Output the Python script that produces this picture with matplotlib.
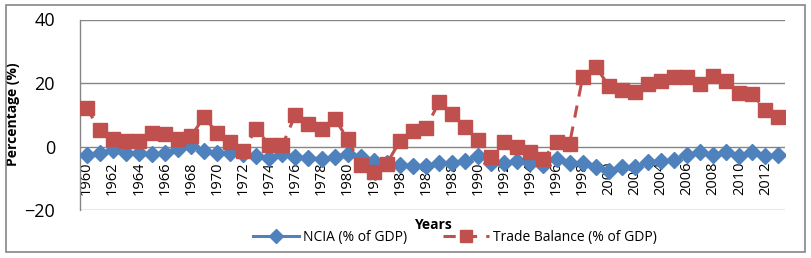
import matplotlib
matplotlib.use('Agg')
import matplotlib.pyplot as plt
from matplotlib.patches import Rectangle

plt.rcParams['font.family'] = ['Open Sans', 'DejaVu Sans']

# Data
years = list(range(1960, 2014))
ncia = [-2.8, -2.2, -1.2, -2.0, -2.2, -2.5, -2.2, -0.8, 0.1, -1.5,
        -2.2, -2.2, -2.5, -3.1, -3.6, -2.5, -3.4, -3.6, -3.9, -3.2,
        -2.5, -3.4, -4.6, -5.1, -5.7, -6.0, -6.0, -5.1, -5.1, -4.6,
        -3.0, -5.1, -5.1, -4.6, -5.1, -5.7, -4.0, -5.1, -5.1, -6.5,
        -7.6, -6.6, -6.5, -5.0, -4.7, -4.2, -2.8, -1.6, -2.8, -1.6,
        -3.0, -1.8, -3.0, -2.8]
trade = [12.2, 5.3, 2.4, 1.7, 1.7, 4.3, 4.0, 2.4, 3.2, 9.3,
         4.3, 1.4, -1.3, 5.6, 0.4, 0.4, 10.0, 7.2, 5.6, 8.8,
         2.4, -5.9, -8.1, -5.4, 1.7, 4.8, 5.9, 13.9, 10.3, 6.2,
         2.0, -3.2, 1.4, -0.1, -1.8, -3.9, 1.5, 0.9, 21.8, 25.1,
         19.2, 17.7, 17.2, 19.8, 20.5, 21.8, 21.8, 19.8, 22.1, 20.5,
         16.9, 16.4, 11.6, 9.3]
tick_labels = [str(y) for y in years]

BLUE = '#4F81BD'
RED = '#C0504D'
GRID = '#868686'

fig = plt.figure(figsize=(8.12, 2.58), dpi=100)
ax = fig.add_axes([80 / 812, 1 - 210 / 258, 705 / 812, 190.5 / 258])

# x axis crosses at 0 (set before the tick labels, it resets them)
ax.spines['bottom'].set_position(('data', 0))
ax.spines['bottom'].set_visible(False)

x = list(range(len(years)))
ax.plot(x, ncia, color=BLUE, linewidth=2.2, marker='D', markersize=8,
        label='NCIA (% of GDP)', zorder=3)
ax.plot(x, trade, color=RED, linewidth=2.2, linestyle=(0, (4, 3)), marker='s',
        markersize=9.5, label='Trade Balance (% of GDP)', zorder=4)

ax.set_xlim(-0.5, len(years) - 0.5)
ax.set_ylim(-20, 40)
ax.set_yticks([-20, 0, 20, 40])
ax.yaxis.grid(True, color=GRID, linewidth=1)
ax.set_axisbelow(True)
ax.tick_params(axis='y', length=0, pad=18, labelsize=13)

# labels every other year
ax.set_xticks(x[::2])
ax.set_xticklabels(tick_labels[::2], fontsize=10.5, rotation=90, va='top')
ax.tick_params(axis='x', length=0, pad=11)

for s in ['top', 'right']:
    ax.spines[s].set_visible(False)
ax.spines['left'].set_color(GRID)
ax.spines['left'].set_linewidth(1)

ax.set_ylabel('Percentage (%)', fontsize=10, fontweight='bold')
ax.yaxis.set_label_coords(-60 / 705, 0.5)
fig.text(433 / 812, 1 - 225 / 258, 'Years', fontsize=10, fontweight='bold',
         ha='center', va='center')

ax.legend(loc='center', bbox_to_anchor=(455 / 812, 1 - 237 / 258),
          bbox_transform=fig.transFigure, ncol=2, frameon=False, fontsize=10,
          handlelength=3.3, columnspacing=2.6, handletextpad=0.3,
          markerscale=0.85)

# outer chart border
fig.add_artist(Rectangle((6 / 812, 1 - 252 / 258), 799 / 812, 247 / 258,
                         transform=fig.transFigure, fill=False,
                         edgecolor=GRID, linewidth=1.2))

fig.savefig('out.png', dpi=100)
